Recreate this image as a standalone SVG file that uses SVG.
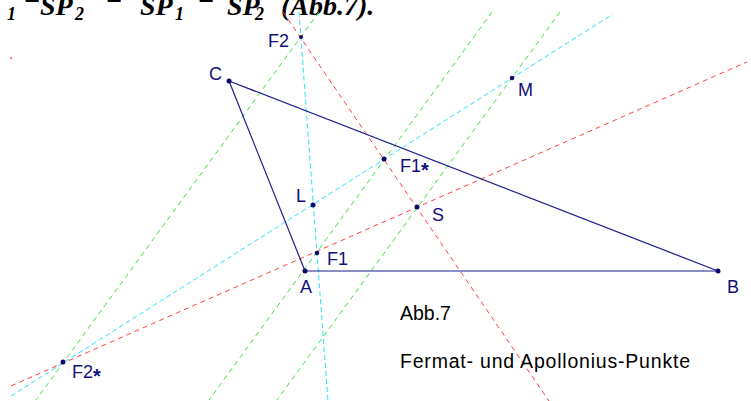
<svg xmlns="http://www.w3.org/2000/svg" width="751" height="401" viewBox="0 0 751 401">
<style>
.bg{fill:#ffffff}
.red{stroke:#ff4040;stroke-width:1;stroke-dasharray:5 4;fill:none}
.cyan{stroke:#30e0ff;stroke-width:1;stroke-dasharray:5 3;fill:none}
.green{stroke:#40e040;stroke-width:1;stroke-dasharray:5 4;fill:none}
.tri{stroke:#1a1a8a;stroke-width:1.2;fill:none}
.pt{fill:#0a0a70}
.lbl{font-family:"Liberation Sans",Arial,sans-serif;font-size:18px;fill:#10107a}
.cap{font-family:"Liberation Sans",Arial,sans-serif;font-size:19.5px;fill:#000000}
.top{font-family:"Liberation Serif","Times New Roman",serif;font-size:28px;font-weight:bold;font-style:italic;fill:#000000}
.sub{font-size:18px}
.star{font-weight:bold;font-size:20px}
</style>
<rect class="bg" x="0" y="0" width="751" height="401"/>
<text class="top"><tspan x="7" y="20" class="sub">1</tspan><tspan x="24" y="8">=</tspan><tspan x="40" y="15">SP</tspan><tspan x="75" y="20" class="sub">2</tspan><tspan x="106" y="8">=</tspan><tspan x="140" y="15">SP</tspan><tspan x="175" y="20" class="sub">1</tspan><tspan x="198" y="8">=</tspan><tspan x="227" y="15">SP</tspan><tspan x="255" y="20" class="sub">2</tspan><tspan x="281" y="15">(Abb.7).</tspan></text>
<rect x="10" y="57" width="2" height="2" fill="#ff8080"/>
<g id="connectors">
<line class="red" x1="283" y1="12" x2="549" y2="401"/>
<line class="red" x1="11" y1="386" x2="747" y2="62"/>
<line class="cyan" x1="299" y1="12" x2="328" y2="401"/>
<line class="cyan" x1="11" y1="396" x2="613" y2="14"/>
<line class="green" x1="319" y1="12" x2="36" y2="400"/>
<line class="green" x1="492" y1="12" x2="209" y2="400"/>
<line class="green" x1="560" y1="12" x2="277" y2="400"/>
<line class="tri" x1="229" y1="81" x2="305" y2="271"/>
<line class="tri" x1="305" y1="271" x2="718" y2="271"/>
<line class="tri" x1="229" y1="81" x2="718" y2="271"/>
</g>
<g id="node-A"><circle class="pt" cx="305" cy="271" r="2.5"/><text class="lbl" x="300" y="293">A</text></g>
<g id="node-B"><circle class="pt" cx="718" cy="271" r="2.5"/><text class="lbl" x="727" y="293">B</text></g>
<g id="node-C"><circle class="pt" cx="229" cy="81" r="2.5"/><text class="lbl" x="209" y="80">C</text></g>
<g id="node-F2"><circle class="pt" cx="301" cy="37" r="2"/><text class="lbl" x="268" y="47">F2</text></g>
<g id="node-M"><circle class="pt" cx="512" cy="78" r="2.3"/><text class="lbl" x="518" y="96">M</text></g>
<g id="node-F1star"><circle class="pt" cx="384" cy="159" r="2.5"/><text class="lbl" x="400" y="172">F1<tspan class="star" dy="5">*</tspan></text></g>
<g id="node-L"><circle class="pt" cx="313" cy="205" r="2.5"/><text class="lbl" x="296" y="202">L</text></g>
<g id="node-S"><circle class="pt" cx="417" cy="207" r="2.5"/><text class="lbl" x="432" y="221">S</text></g>
<g id="node-F1"><circle class="pt" cx="317" cy="253" r="2.3"/><text class="lbl" x="327" y="265">F1</text></g>
<g id="node-F2star"><circle class="pt" cx="63" cy="362" r="2.5"/><text class="lbl" x="72" y="378">F2<tspan class="star" dy="5">*</tspan></text></g>
<g id="caption"><text class="cap" x="400" y="320">Abb.7</text><text class="cap" x="400" y="368" textLength="290">Fermat- und Apollonius-Punkte</text></g>
</svg>
